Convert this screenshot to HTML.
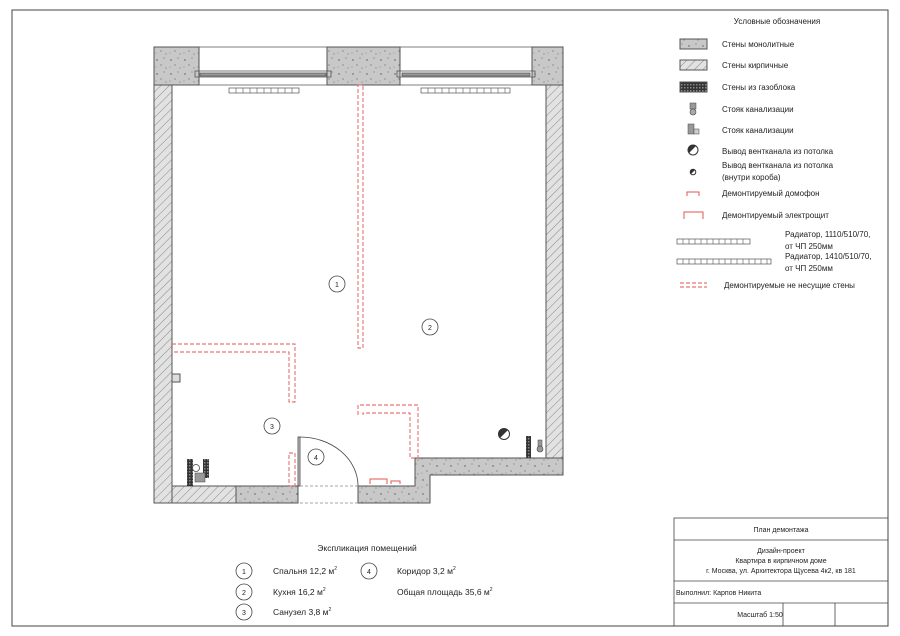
<!DOCTYPE html>
<html><head><meta charset="utf-8"><style>
html,body{margin:0;padding:0;background:#fff;width:900px;height:636px;overflow:hidden}
svg text{font-family:"Liberation Sans",sans-serif;fill:#222}
</style></head><body>
<svg width="900" height="636" viewBox="0 0 900 636" xmlns="http://www.w3.org/2000/svg">
<defs>
<pattern id="conc" width="14" height="14" patternUnits="userSpaceOnUse">
<rect width="14" height="14" fill="#c8c8c8"/>
<circle cx="3" cy="4" r="0.7" fill="#555"/><circle cx="10" cy="2" r="0.5" fill="#555"/>
<circle cx="7" cy="9" r="0.6" fill="#666"/><circle cx="12" cy="12" r="0.5" fill="#555"/><circle cx="2" cy="11" r="0.4" fill="#444"/>
</pattern>
<pattern id="brick" width="6" height="6" patternUnits="userSpaceOnUse" patternTransform="rotate(45)">
<rect width="6" height="6" fill="#e2e2e2"/><line x1="0" y1="0" x2="0" y2="6" stroke="#888" stroke-width="1"/>
</pattern>
<pattern id="gas" width="3" height="3" patternUnits="userSpaceOnUse">
<rect width="3" height="3" fill="#333"/><rect width="1.5" height="1.5" fill="#888"/>
</pattern>
</defs>
<!-- frame -->
<rect x="12" y="10" width="876" height="616" fill="none" stroke="#444" stroke-width="1"/>

<!-- walls -->
<g stroke="#555" stroke-width="1">
<rect x="154" y="47" width="45" height="38" fill="url(#conc)"/>
<rect x="327" y="47" width="73" height="38" fill="url(#conc)"/>
<rect x="532" y="47" width="31" height="38" fill="url(#conc)"/>
<rect x="154" y="85" width="18" height="418" fill="url(#brick)"/>
<rect x="546" y="85" width="17" height="373" fill="url(#brick)"/>
<rect x="172" y="486" width="64" height="17" fill="url(#brick)"/>
<rect x="236" y="486" width="62" height="17" fill="url(#conc)"/>
<path d="M358 486 H415 V458 H563 V475 H430 V503 H358 Z" fill="url(#conc)"/>
<rect x="172" y="374" width="8" height="8" fill="#ddd"/>
</g>
<!-- windows -->
<g stroke="#555" stroke-width="0.8" fill="none">
<line x1="199" y1="47" x2="327" y2="47"/><line x1="400" y1="47" x2="532" y2="47"/>
<rect x="195" y="71" width="136" height="6"/><rect x="397" y="71" width="138" height="6"/>
<rect x="200" y="73" width="126" height="3" fill="#999"/><rect x="402" y="73" width="128" height="3" fill="#999"/>
<line x1="172" y1="85" x2="546" y2="85"/>
</g>
<!-- radiators -->
<g fill="#fff" stroke="#555" stroke-width="0.7">
<rect x="229" y="88" width="70" height="5"/><rect x="421" y="88" width="89" height="5"/>
</g>
<g stroke="#555" stroke-width="0.6">
<path d="M236 88v5M243 88v5M250 88v5M257 88v5M264 88v5M271 88v5M278 88v5M285 88v5M292 88v5"/>
<path d="M428 88v5M435 88v5M442 88v5M449 88v5M456 88v5M463 88v5M470 88v5M477 88v5M484 88v5M491 88v5M498 88v5M505 88v5"/>
</g>
<!-- dashed red -->
<g fill="none" stroke="#e05555" stroke-width="0.9" stroke-dasharray="4,2">
<rect x="358" y="85" width="5" height="263"/>
<path d="M172 344 H295 V402 H289 V352 H172"/>
<path d="M358 415 V405 H418 V458 H410 V413 H363 V415"/>
<rect x="289" y="453" width="6" height="33"/>
</g>
<!-- door -->
<g stroke="#444" fill="none" stroke-width="0.8">
<rect x="298" y="437" width="2" height="49" fill="#ccc"/>
<path d="M300 437 A58 49 0 0 1 358 486"/>
<line x1="300" y1="486" x2="358" y2="486" stroke-dasharray="3,2" stroke="#888"/>
<line x1="300" y1="503" x2="358" y2="503" stroke-dasharray="3,2" stroke="#888"/>
</g>
<!-- electrical -->
<g stroke="#e05555" fill="none" stroke-width="1">
<path d="M370 484 V479 H387 V484"/><path d="M391 484 V481 H400 V484"/>
</g>
<!-- bathroom fixtures -->
<rect x="187" y="459" width="6" height="27" fill="url(#gas)"/>
<rect x="203" y="459" width="6" height="19" fill="url(#gas)"/>
<circle cx="196" cy="468" r="3.5" fill="#fff" stroke="#444" stroke-width="0.8"/>
<rect x="195" y="473" width="10" height="9" fill="#999" stroke="#444" stroke-width="0.5"/>
<rect x="526" y="436" width="5" height="22" fill="url(#gas)"/>
<circle cx="540" cy="449" r="3" fill="#999" stroke="#444" stroke-width="0.6"/>
<rect x="538" y="440" width="4" height="6" fill="#999" stroke="#444" stroke-width="0.5"/>
<circle cx="504" cy="434" r="5.5" fill="#fff" stroke="#333" stroke-width="1"/>
<path d="M500 438 L508 430 A5.5 5.5 0 0 0 500 438Z" fill="#333"/>
<!-- room numbers -->
<g fill="#fff" stroke="#444" stroke-width="0.8">
<circle cx="337" cy="284" r="8"/><circle cx="430" cy="327" r="8"/><circle cx="272" cy="426" r="8"/><circle cx="316" cy="457" r="8"/>
</g>
<g font-size="7" text-anchor="middle">
<text x="337" y="287">1</text><text x="430" y="330">2</text><text x="272" y="429">3</text><text x="316" y="460">4</text>
</g>

<!-- legend -->
<g font-size="8">
<text x="777" y="24" text-anchor="middle">Условные обозначения</text>
<rect x="680" y="39" width="27" height="10" fill="url(#conc)" stroke="#555"/><text x="722" y="47">Стены монолитные</text>
<rect x="680" y="60" width="27" height="10" fill="url(#brick)" stroke="#555"/><text x="722" y="68">Стены кирпичные</text>
<rect x="680" y="82" width="27" height="10" fill="url(#gas)" stroke="#555"/><text x="722" y="90">Стены из газоблока</text>
<rect x="690" y="103" width="6" height="6" fill="#999" stroke="#444" stroke-width="0.5"/><circle cx="693" cy="112" r="3" fill="#aaa" stroke="#444" stroke-width="0.6"/><text x="722" y="112">Стояк канализации</text>
<rect x="688" y="124" width="6" height="10" fill="#999" stroke="#444" stroke-width="0.5"/><rect x="694" y="129" width="5" height="5" fill="#ccc" stroke="#444" stroke-width="0.5"/><text x="722" y="133">Стояк канализации</text>
<circle cx="693" cy="150" r="5" fill="#fff" stroke="#333"/><path d="M689 153 L696 146 A5 5 0 0 0 689 153Z" fill="#333"/><text x="722" y="154">Вывод вентканала из потолка</text>
<circle cx="693" cy="172" r="2.8" fill="#fff" stroke="#333"/><path d="M691 174 L695 170 A2.8 2.8 0 0 0 691 174Z" fill="#333"/>
<text x="722" y="168">Вывод вентканала из потолка</text><text x="722" y="180">(внутри короба)</text>
<path d="M687 196 V192 H699 V196" stroke="#e05555" fill="none"/><text x="722" y="196">Демонтируемый домофон</text>
<path d="M684 219 V212 H703 V219" stroke="#e05555" fill="none"/><text x="722" y="218">Демонтируемый электрощит</text>
<rect x="677" y="239" width="73" height="5" fill="#fff" stroke="#555" stroke-width="0.7"/>
<path d="M683 239v5M689 239v5M695 239v5M701 239v5M707 239v5M713 239v5M719 239v5M725 239v5M731 239v5M737 239v5M743 239v5" stroke="#555" stroke-width="0.6"/>
<rect x="677" y="259" width="94" height="5" fill="#fff" stroke="#555" stroke-width="0.7"/>
<path d="M683 259v5M689 259v5M695 259v5M701 259v5M707 259v5M713 259v5M719 259v5M725 259v5M731 259v5M737 259v5M743 259v5M749 259v5M755 259v5M761 259v5M767 259v5" stroke="#555" stroke-width="0.6"/>
<text x="785" y="237">Радиатор, 1110/510/70,</text><text x="785" y="249">от ЧП 250мм</text>
<text x="785" y="259">Радиатор, 1410/510/70,</text><text x="785" y="271">от ЧП 250мм</text>
<path d="M680 283 H707 M680 287 H707" stroke="#e05555" stroke-dasharray="4,2" fill="none"/>
<text x="724" y="288">Демонтируемые не несущие стены</text>
</g>

<!-- explication -->
<g font-size="8.5">
<text x="367" y="551" text-anchor="middle">Экспликация помещений</text>
<g fill="#fff" stroke="#444" stroke-width="0.8">
<circle cx="244" cy="571" r="8"/><circle cx="244" cy="592" r="8"/><circle cx="244" cy="612" r="8"/><circle cx="369" cy="571" r="8"/>
</g>
<g font-size="7" text-anchor="middle"><text x="244" y="574">1</text><text x="244" y="595">2</text><text x="244" y="615">3</text><text x="369" y="574">4</text></g>
<text x="273" y="574">Спальня 12,2 м<tspan font-size="5" dy="-4">2</tspan></text>
<text x="273" y="595">Кухня 16,2 м<tspan font-size="5" dy="-4">2</tspan></text>
<text x="273" y="615">Санузел 3,8 м<tspan font-size="5" dy="-4">2</tspan></text>
<text x="397" y="574">Коридор 3,2 м<tspan font-size="5" dy="-4">2</tspan></text>
<text x="397" y="595">Общая площадь 35,6 м<tspan font-size="5" dy="-4">2</tspan></text>
</g>

<!-- title block -->
<g stroke="#444" stroke-width="0.8" fill="none">
<rect x="674" y="518" width="214" height="108"/>
<line x1="674" y1="540" x2="888" y2="540"/>
<line x1="674" y1="581" x2="888" y2="581"/>
<line x1="674" y1="603" x2="888" y2="603"/>
<line x1="783" y1="603" x2="783" y2="626"/>
<line x1="835" y1="603" x2="835" y2="626"/>
</g>
<g font-size="7" text-anchor="middle">
<text x="781" y="532">План демонтажа</text>
<text x="781" y="553">Дизайн-проект</text>
<text x="781" y="563">Квартира в кирпичном доме</text>
<text x="781" y="573">г. Москва, ул. Архитектора Щусева 4к2, кв 181</text>
<text x="676" y="595" text-anchor="start">Выполнил: Карпов Никита</text>
<text x="760" y="617">Масштаб 1:50</text>
</g>
</svg>
</body></html>
